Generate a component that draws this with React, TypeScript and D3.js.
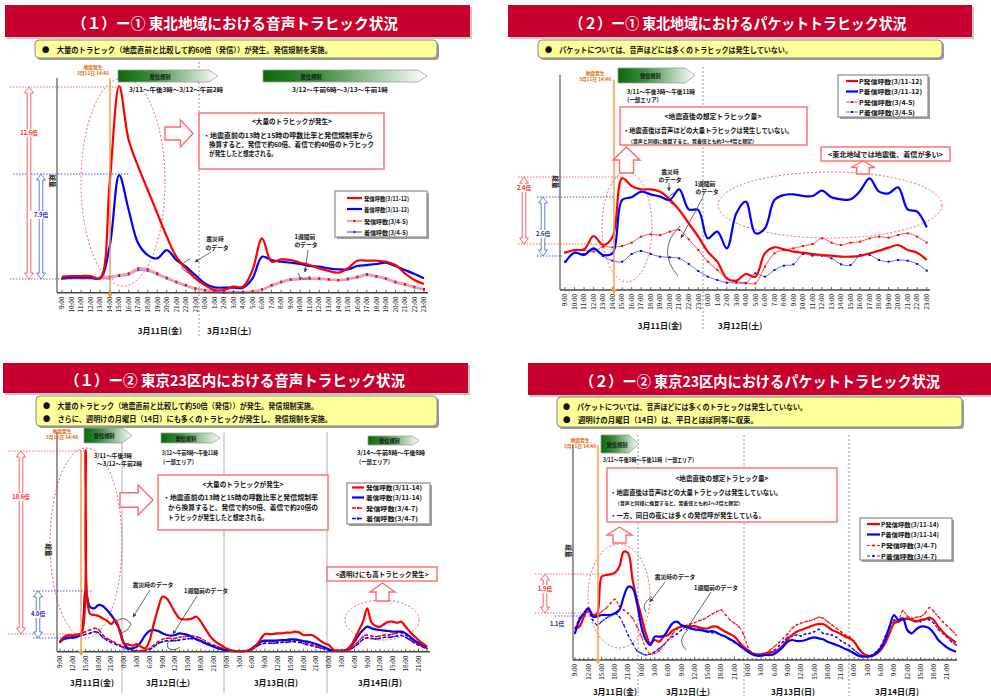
import React from "react";
import * as d3 from "d3";

const FONT = "'Noto Sans CJK JP','Noto Sans',sans-serif";

const HOURS = ["0:00","1:00","2:00","3:00","4:00","5:00","6:00","7:00","8:00","9:00","10:00","11:00","12:00","13:00","14:00","15:00","16:00","17:00","18:00","19:00","20:00","21:00","22:00","23:00"];
const CATS_2D = [...HOURS.slice(9), ...HOURS];
const CATS_4D = [...HOURS.slice(9), ...HOURS, ...HOURS, ...HOURS];
const DATES_2D = ["3月11日(金)", "3月12日(土)"];
const DATES_4D = ["3月11日(金)", "3月12日(土)", "3月13日(日)", "3月14日(月)"];

const TITLES = [
  "（１）ー①  東北地域における音声トラヒック状況",
  "（２）ー①  東北地域におけるパケットトラヒック状況",
  "（１）ー②  東京23区内における音声トラヒック状況",
  "（２）ー②  東京23区内におけるパケットトラヒック状況",
];

const LEG_P1 = ["発信呼数(3/11-12)", "着信呼数(3/11-12)", "発信呼数(3/4-5)", "着信呼数(3/4-5)"];
const LEG_P2 = ["P発信呼数(3/11-12)", "P着信呼数(3/11-12)", "P発信呼数(3/4-5)", "P着信呼数(3/4-5)"];
const LEG_P3 = ["発信呼数(3/11-14)", "着信呼数(3/11-14)", "発信呼数(3/4-7)", "着信呼数(3/4-7)"];
const LEG_P4 = ["P発信呼数(3/11-14)", "P着信呼数(3/11-14)", "P発信呼数(3/4-7)", "P着信呼数(3/4-7)"];

// Panel 1 : 東北 音声 (9:00 3/11 .. 23:00 3/12)
const P1_SEND = [48,50,50,50,43,328,620,458,378,308,238,168,108,73,43, 23,8,8,18,18,68,163,93,100,98,90,83,73,65,60,73,96,96,96,93,83,58,38,26];
const P1_RECV = [43,45,45,45,43,138,353,248,148,113,103,128,98,78,53, 28,16,15,15,15,43,108,98,93,90,86,80,78,73,70,70,80,83,86,90,80,68,56,43];
const P1_SEND_PREV = [43,45,45,45,45,48,53,58,73,70,58,45,33,23,13, 8,4,2,2,2,4,10,23,33,40,43,43,43,40,38,42,48,56,50,43,33,26,18,11];
const P1_RECV_PREV = [42,44,44,44,44,46,50,55,68,66,55,43,31,21,12, 7,3,1,1,1,3,9,21,31,38,41,41,41,39,37,40,46,53,48,41,31,24,16,10];

// Panel 2 : 東北 パケット
const P2_SEND = [112,120,122,162,135,160,335,312,302,302,295,272,240,200,160, 115,85,35,28,48,40,110,128,122,115,112,108,105,103,100,100,102,110,118,127,135,120,112,90];
const P2_RECV = [82,112,105,125,105,110,270,278,295,287,280,270,302,242,240, 155,175,125,230,265,170,185,270,285,287,282,282,298,278,272,272,297,335,295,290,308,242,235,188];
const P2_SEND_PREV = [112,120,120,115,130,128,132,142,160,167,165,175,180,152,120, 85,60,35,25,22,20,70,110,120,125,132,138,155,142,135,142,145,155,160,157,165,170,160,142];
const P2_RECV_PREV = [85,112,108,122,102,88,85,108,117,108,100,98,95,78,57, 40,30,22,22,20,50,40,60,73,77,108,103,103,95,77,75,105,105,90,85,90,88,78,58];

// Panel 3 : 東京23区 音声 (9:00 3/11 .. 23:00 3/14)
const P3_SEND = [30,45,50,50,52,55,605,115,110,107,100,93,83,95,60,
  25,22,18,23,15,10,35,85,130,165,160,140,117,100,97,97,100,105,90,70,50,35,25,18,
  10,5,2,2,2,3,7,20,37,53,53,53,55,55,57,57,60,58,50,50,50,43,33,25,
  20,7,3,3,3,15,37,63,90,130,87,77,75,83,90,90,87,90,75,60,47,35,25,15];
const P3_RECV = [30,40,42,42,45,55,180,135,130,140,137,125,110,90,65,
  25,10,10,15,30,50,63,65,62,55,50,48,50,55,53,50,43,37,32,25,20,15,10,7,
  5,3,2,2,2,3,10,20,30,33,33,33,34,35,35,37,37,35,32,30,27,23,18,13,
  7,3,3,3,5,15,30,50,65,75,70,67,65,63,62,60,60,60,55,45,35,27,20,13];
const P3_SEND_PREV = [30,40,45,47,50,55,60,65,70,67,50,40,33,27,20,
  15,10,5,3,3,5,10,20,30,37,40,40,40,43,45,47,47,45,40,33,25,20,15,10,
  5,3,2,2,2,3,10,20,27,30,30,30,32,33,33,35,35,33,30,25,21,17,13,10,
  5,3,2,2,3,10,20,32,45,50,47,45,47,50,50,53,55,57,50,40,30,22,15,10];
const P3_RECV_PREV = [28,37,40,42,45,48,52,55,60,57,43,35,28,23,17,
  12,7,3,2,2,3,7,15,25,30,33,33,33,35,37,39,39,37,33,27,21,17,12,8,
  4,2,1,1,1,2,7,15,22,25,25,25,27,28,28,30,30,28,25,21,18,15,11,8,
  4,2,1,1,2,7,15,25,37,42,40,38,40,43,43,45,47,49,43,35,27,20,14,9];

// Panel 4 : 東京23区 パケット
const P4_SEND = [95,100,130,155,135,140,250,255,257,262,280,325,320,240,180,
  130,80,50,60,55,70,75,88,95,100,102,100,102,98,95,95,100,100,92,85,78,70,55,40,
  30,20,17,17,20,22,25,32,45,62,75,85,90,95,100,105,108,108,100,90,85,78,70,65,
  55,35,20,13,13,18,30,50,80,110,115,122,125,120,115,120,122,127,120,100,85,72,62,52];
const P4_RECV = [80,120,140,155,130,130,135,135,135,140,150,190,220,215,170,
  100,60,45,70,70,72,90,110,115,105,100,95,92,90,88,85,87,82,75,70,62,55,45,35,
  25,17,13,13,15,15,18,28,40,55,60,57,57,60,65,68,65,62,55,50,45,40,33,28,
  20,13,10,10,12,20,35,60,100,135,120,125,90,80,92,100,100,95,80,60,48,37,30,25];
const P4_SEND_PREV = [95,125,140,145,132,135,145,155,170,182,162,150,140,125,100,
  70,35,18,20,28,45,60,78,92,100,103,108,112,118,122,130,138,145,150,135,120,110,100,78,
  40,20,15,15,20,30,40,52,65,78,95,105,110,115,118,122,128,125,115,105,95,85,75,68,
  55,35,20,13,15,22,40,70,100,115,120,148,132,125,128,130,140,157,145,130,115,102,90,75];
const P4_RECV_PREV = [80,125,135,145,120,105,115,125,132,140,130,105,75,50,28,
  20,15,18,25,35,45,60,70,78,90,100,105,100,95,90,85,82,80,75,70,62,52,45,35,
  25,18,15,15,18,23,30,42,55,68,72,75,72,78,80,85,92,80,78,75,68,58,50,42,
  30,20,13,12,15,25,42,70,100,120,115,120,122,120,118,115,122,120,110,92,80,68,55,45];

type Sty = { c: string; w: number; dash?: string; mk?: string; ms?: number };
type Ser = { v: number[]; s: Sty };
type Cfg = {
  cats: string[]; step: number; x0: number; x1: number; left: number; right: number;
  top: number; bottom: number; yMax: number; fs: number; series: Ser[];
};

const RED: Sty = { c: "#FF0000", w: 2.2 };
const BLUE: Sty = { c: "#0000FF", w: 2.2 };
const P1_RP: Sty = { c: "#FF9C9C", w: 2.2, mk: "#E00000", ms: 2 };
const P1_BP: Sty = { c: "#A0A0FF", w: 2.2, mk: "#2020C8", ms: 2 };
const P2_RP: Sty = { c: "#FF5050", w: 1, mk: "#FF0000", ms: 2 };
const P2_BP: Sty = { c: "#6A6AFF", w: 1, mk: "#0000FF", ms: 2 };
const P3_RP: Sty = { c: "#FF0000", w: 1.4, dash: "4,2", mk: "#FF0000", ms: 1.6 };
const P3_BP: Sty = { c: "#0000FF", w: 1.4, dash: "4,2", mk: "#0000FF", ms: 1.6 };
const P4_RP: Sty = { c: "#FF2020", w: 1.2, dash: "3,2", mk: "#FF0000", ms: 1.6 };
const P4_BP: Sty = { c: "#2020FF", w: 1.2, dash: "3,2", mk: "#0000FF", ms: 1.6 };

function Chart({ cfg }: { cfg: Cfg }) {
  const x = d3.scaleLinear().domain([0, cfg.cats.length - 1]).range([cfg.x0, cfg.x1]);
  const y = d3.scaleLinear().domain([0, cfg.yMax]).range([cfg.bottom, cfg.top]);
  const line = d3.line<number>().x((_, i) => x(i)).y((d) => y(d)).curve(d3.curveCatmullRom.alpha(0.5));
  return (
    <g>
      <line x1={cfg.left} x2={cfg.left} y1={cfg.top} y2={cfg.bottom} stroke="#444" strokeWidth={1.1} />
      {cfg.cats.map((c, i) => (
        <line key={"k" + i} x1={x(i)} x2={x(i)} y1={cfg.bottom} y2={cfg.bottom - (i % cfg.step === 0 ? 3 : 2)} stroke="#444" strokeWidth={0.8} />
      ))}
      {cfg.cats.map((c, i) =>
        i % cfg.step === 0 ? (
          <text key={"t" + i} transform={`translate(${x(i) + cfg.fs * 0.36},${cfg.bottom + 4}) rotate(-90)`} textAnchor="end"
            fontSize={cfg.fs} fontFamily={FONT} fill="#222">{c}</text>
        ) : null
      )}
      {cfg.series.map((s, k) => (
        <g key={"s" + k}>
          <path d={line(s.v) as string} fill="none" stroke={s.s.c} strokeWidth={s.s.w} strokeDasharray={s.s.dash} strokeLinejoin="round" />
          {s.s.mk ? s.v.map((d, i) => (
            <rect key={i} x={x(i) - (s.s.ms || 2) / 2} y={y(d) - (s.s.ms || 2) / 2} width={s.s.ms || 2} height={s.s.ms || 2} fill={s.s.mk} />
          )) : null}
        </g>
      ))}
      <line x1={cfg.left} x2={cfg.right} y1={cfg.bottom} y2={cfg.bottom} stroke="#444" strokeWidth={1.4} />
    </g>
  );
}

function Txt(p: { x: number; y: number; t: string; fs?: number; w?: number; fill?: string; a?: string; b?: boolean }) {
  const extra: any = p.w ? { textLength: p.w, lengthAdjust: "spacingAndGlyphs" } : {};
  return (
    <text x={p.x} y={p.y} fontSize={p.fs ?? 6.5} fontFamily={FONT} fontWeight={p.b === false ? 400 : 700}
      fill={p.fill ?? "#111"} textAnchor={p.a ?? "start"} dominantBaseline="central" {...extra}>{p.t}</text>
  );
}

function Title({ x, y, w, h, t, tx, tw }: any) {
  return (
    <g>
      <rect x={x + 2} y={y + 2} width={w} height={h} fill="#C8C8C8" />
      <rect x={x} y={y} width={w} height={h} fill="#C8002E" />
      <text x={tx} y={y + h / 2 + 1} fontSize={15} fontFamily={FONT} fontWeight={700} fill="#fff" textAnchor="middle"
        dominantBaseline="central" textLength={tw} lengthAdjust="spacingAndGlyphs">{t}</text>
    </g>
  );
}

function Yellow({ x, y, w, h, lines }: any) {
  return (
    <g>
      <rect x={x + 2} y={y + 2} width={w} height={h} rx={4} fill="#9A9A9A" />
      <rect x={x} y={y} width={w} height={h} rx={4} fill="#FFFF99" stroke="#8A8A8A" strokeWidth={1} />
      {lines.map((l: any, i: number) => <Txt key={i} x={l[1]} y={l[2]} t={l[0]} fs={7.5} w={l[3]} />)}
    </g>
  );
}

function Green({ x, y, w, h, sub }: any) {
  const tip = Math.min(10, h * 0.75);
  const d = `M${x},${y}H${x + w - tip}L${x + w},${y + h / 2}L${x + w - tip},${y + h}H${x}Z`;
  return (
    <g>
      <path d={d} fill="url(#gGrad)" stroke="#A0A0A0" strokeWidth={0.8} />
      <Txt x={x + Math.min(w * 0.42, 48)} y={y + h / 2} t="発信規制" fs={5.2} a="middle" fill="#111" />
      {sub.map((l: any, i: number) => <Txt key={i} x={l[1]} y={l[2]} t={l[0]} fs={6} w={l[3]} />)}
    </g>
  );
}

function Quake({ x, y1, y2, lx, ly }: any) {
  return (
    <g>
      <line x1={x} x2={x} y1={y1} y2={y2 - 4} stroke="#F7963F" strokeWidth={1.6} opacity={0.85} />
      <path d={`M${x - 3},${y2 - 5}L${x + 3},${y2 - 5}L${x},${y2}Z`} fill="#F7963F" />
      <Txt x={lx} y={ly} t="地震発生" fs={4.8} a="middle" fill="#F06000" />
      <Txt x={lx} y={ly + 6} t="3月11日 14:46" fs={4.8} a="middle" fill="#F06000" />
    </g>
  );
}

function Callout({ x, y, w, h, title, tx, ty, tw, lines }: any) {
  return (
    <g>
      <rect x={x} y={y} width={w} height={h} fill="#fff" stroke="#FF6A6A" strokeWidth={1.4} />
      <Txt x={tx} y={ty} t={title} fs={6.8} a="middle" w={tw} />
      {lines.map((l: any, i: number) => <Txt key={i} x={l[1]} y={l[2]} t={l[0]} fs={l[4] || 6.5} w={l[3]} />)}
    </g>
  );
}

function Legend({ x, y, w, h, names, styles, rows, sx0, sx1, tx, tws }: any) {
  return (
    <g>
      <rect x={x + 2} y={y + 2} width={w} height={h} fill="#A0A0A0" />
      <rect x={x} y={y} width={w} height={h} fill="#fff" stroke="#8C8C8C" strokeWidth={1.2} />
      {names.map((n: string, i: number) => {
        const s: Sty = styles[i];
        return (
          <g key={i}>
            <line x1={sx0} x2={sx1} y1={rows[i]} y2={rows[i]} stroke={s.c} strokeWidth={s.w} strokeDasharray={s.dash} />
            {s.mk ? <rect x={(sx0 + sx1) / 2 - 1} y={rows[i] - 1} width={2} height={2} fill={s.mk} /> : null}
            <Txt x={tx} y={rows[i]} t={n} fs={6.2} w={tws[i]} />
          </g>
        );
      })}
    </g>
  );
}

function DArrow({ x, y1, y2, c }: any) {
  const hw = 4.5, sw = 1.8, hl = 6;
  const d = `M${x},${y1}L${x + hw},${y1 + hl}L${x + sw},${y1 + hl}L${x + sw},${y2 - hl}L${x + hw},${y2 - hl}L${x},${y2}L${x - hw},${y2 - hl}L${x - sw},${y2 - hl}L${x - sw},${y1 + hl}L${x - hw},${y1 + hl}Z`;
  return <path d={d} fill="#fff" stroke={c} strokeWidth={0.9} />;
}

function Ratio({ x, y, t, c }: any) {
  return (
    <g>
      <rect x={x - 11} y={y - 4} width={22} height={8} fill="#fff" />
      <Txt x={x} y={y} t={t} fs={5.6} a="middle" fill={c} />
    </g>
  );
}

function RArrow({ x, y, w, h }: any) {
  const hl = w * 0.45, sh = h * 0.24, cy = y + h / 2;
  const d = `M${x},${cy - sh}H${x + w - hl}V${y}L${x + w},${cy}L${x + w - hl},${y + h}V${cy + sh}H${x}Z`;
  return <path d={d} fill="#fff" stroke="#FF6A6A" strokeWidth={1.4} />;
}

function UArrow({ x, y, w, h }: any) {
  const hl = h * 0.5, sw = w * 0.26, cx = x + w / 2;
  const d = `M${cx - sw},${y + h}V${y + hl}H${x}L${cx},${y}L${x + w},${y + hl}H${cx + sw}V${y + h}Z`;
  return <path d={d} fill="#fff" stroke="#FF6A6A" strokeWidth={1.4} />;
}

function Ell({ cx, cy, rx, ry }: any) {
  return <ellipse cx={cx} cy={cy} rx={rx} ry={ry} fill="none" stroke="#FF5A5A" strokeWidth={1} strokeDasharray="2,2" />;
}

function HDot({ y, x1, x2, c }: any) {
  return <line x1={x1} x2={x2} y1={y} y2={y} stroke={c} strokeWidth={0.9} strokeDasharray="1.5,1.5" />;
}

function VText({ x, y }: any) {
  return (
    <text transform={`translate(${x},${y}) rotate(90)`} fontSize={6.5} fontFamily={FONT} fontWeight={700} fill="#111"
      textAnchor="middle" dominantBaseline="central">総量</text>
  );
}

function Pointer({ x1, y1, x2, y2 }: any) {
  return <line x1={x1} y1={y1} x2={x2} y2={y2} stroke="#444" strokeWidth={0.8} markerEnd="url(#gArr)" />;
}

function Arc({ d }: any) {
  return <path d={d} fill="none" stroke="#555" strokeWidth={0.9} />;
}

export default function App() {
  const cfg1: Cfg = {
    cats: CATS_2D, step: 1, x0: 62, x1: 424, left: 57, right: 428, top: 77.7, bottom: 292.7, yMax: 645, fs: 6.3,
    series: [
      { v: P1_RECV_PREV, s: P1_BP }, { v: P1_SEND_PREV, s: P1_RP },
      { v: P1_RECV, s: BLUE }, { v: P1_SEND, s: RED },
    ],
  };
  const cfg2: Cfg = {
    cats: CATS_2D, step: 1, x0: 565, x1: 926.7, left: 560, right: 930, top: 75, bottom: 290, yMax: 645, fs: 6.3,
    series: [
      { v: P2_RECV_PREV, s: P2_BP }, { v: P2_SEND_PREV, s: P2_RP },
      { v: P2_SEND, s: RED }, { v: P2_RECV, s: BLUE },
    ],
  };
  const cfg3: Cfg = {
    cats: CATS_4D, step: 3, x0: 60, x1: 427, left: 57, right: 430, top: 432, bottom: 651.7, yMax: 659, fs: 6.3,
    series: [
      { v: P3_RECV_PREV, s: P3_BP }, { v: P3_SEND_PREV, s: P3_RP },
      { v: P3_RECV, s: BLUE }, { v: P3_SEND, s: RED },
    ],
  };
  const cfg4: Cfg = {
    cats: CATS_4D, step: 3, x0: 575, x1: 956, left: 573, right: 957, top: 445, bottom: 660, yMax: 645, fs: 6.3,
    series: [
      { v: P4_RECV_PREV, s: P4_BP }, { v: P4_SEND_PREV, s: P4_RP },
      { v: P4_SEND, s: RED }, { v: P4_RECV, s: BLUE },
    ],
  };

  return (
    <div>
      <svg width={991} height={696} style={{ position: "absolute", left: 0, top: 0, background: "#fff" }}>
        <defs>
          <linearGradient id="gGrad" x1="0" x2="1" y1="0" y2="0">
            <stop offset="0%" stopColor="#0A680A" />
            <stop offset="35%" stopColor="#3E8E3E" />
            <stop offset="100%" stopColor="#FFFFFF" />
          </linearGradient>
          <marker id="gArr" viewBox="0 0 10 10" refX="9" refY="5" markerWidth="5" markerHeight="5" orient="auto">
            <path d="M0,0L10,5L0,10Z" fill="#444" />
          </marker>
        </defs>
        <rect x={0} y={0} width={991} height={696} fill="#fff" />

        {/* ================= Panel 1 ================= */}
        <Title x={5} y={5} w={465} h={32} t={TITLES[0]} tx={235} tw={326} />
        <Yellow x={35} y={40} w={402} h={18} lines={[["●　大量のトラヒック（地震直前と比較して約60倍（発信））が発生。発信規制を実施。", 42, 49.5, 290]]} />
        <line x1={199} x2={199} y1={62} y2={337} stroke="#888" strokeWidth={0.9} strokeDasharray="2,2" />
        <Ell cx={123} cy={182} rx={42} ry={104} />
        <Chart cfg={cfg1} />
        <Quake x={110} y1={78} y2={298} lx={93} ly={66} />
        <Green x={118} y={70} w={100} h={12} sub={[["3/11～午後3時～3/12～午前2時", 129, 89, 94]]} />
        <Green x={263} y={70} w={164} h={12} sub={[["3/12～午前6時～3/13～午前1時", 292, 89, 96]]} />
        <HDot y={87} x1={10} x2={122} c="#FF5050" />
        <HDot y={174} x1={13} x2={130} c="#4040E0" />
        <HDot y={279} x1={10} x2={115} c="#8050C0" />
        <DArrow x={29} y1={87} y2={279} c="#FF5050" />
        <DArrow x={41} y1={174} y2={279} c="#5070D0" />
        <Ratio x={29} y={133} t="12.6倍" c="#FF2020" />
        <Ratio x={41} y={215} t="7.9倍" c="#2020E0" />
        <VText x={53} y={181} />
        <RArrow x={165} y={120} w={28} h={27} />
        <Callout x={199} y={113} w={185} h={56} title="<大量のトラヒックが発生>" tx={292} ty={121} tw={80}
          lines={[["・地震直前の13時と15時の呼数比率と発信規制率から", 203, 135, 170],
                  ["換算すると、発信で約60倍、着信で約40倍のトラヒック", 209, 144, 165],
                  ["が発生したと想定される。", 209, 153, 68]]} />
        <Legend x={335} y={191} w={92} h={46} names={LEG_P1} styles={[RED, BLUE, P1_RP, P1_BP]}
          rows={[198, 209, 221, 232]} sx0={347} sx1={362} tx={364} tws={[45, 45, 44, 44]} />
        <Txt x={215} y={238} t="震災時" fs={5.8} a="middle" />
        <Txt x={217} y={247} t="のデータ" fs={5.8} a="middle" />
        <Pointer x1={211} y1={252} x2={195} y2={262} />
        <Arc d="M190,259 Q174,266 190,274" />
        <Txt x={305} y={236} t="1週間前" fs={5.8} a="middle" />
        <Txt x={306} y={244} t="のデータ" fs={5.8} a="middle" />
        <Pointer x1={308} y1={250} x2={305} y2={272} />
        <Arc d="M298,273 Q302,284 310,276" />
        <Txt x={182} y={330} t={DATES_2D[0]} fs={8} a="end" />
        <Txt x={207} y={330} t={DATES_2D[1]} fs={8} />

        {/* ================= Panel 2 ================= */}
        <Title x={508} y={5} w={464} h={32} t={TITLES[1]} tx={738} tw={337} />
        <Yellow x={538} y={40} w={404} h={18} lines={[["●　パケットについては、音声ほどには多くのトラヒックは発生していない。", 545, 49.5, 247]]} />
        <line x1={703} x2={703} y1={67} y2={330} stroke="#888" strokeWidth={0.9} strokeDasharray="2,2" />
        <Ell cx={627} cy={227} rx={25} ry={55} />
        <Ell cx={830} cy={205} rx={112} ry={33} />
        <Chart cfg={cfg2} />
        <Quake x={614} y1={80} y2={294} lx={595} ly={72} />
        <Green x={618} y={68} w={77} h={15} sub={[["3/11～午後3時～午後11時", 627, 91, 68], ["（一部エリア）", 624, 99, 38]]} />
        <Legend x={838} y={75} w={90} h={42} names={LEG_P2} styles={[RED, BLUE, P2_RP, P2_BP]}
          rows={[81, 91.5, 102, 112]} sx0={846} sx1={858} tx={859} tws={[63, 63, 56, 56]} />
        <Callout x={620} y={107} w={187} h={38} title="<地震直後の想定トラヒック量>" tx={713} ty={116} tw={97}
          lines={[["・地震直後は音声ほどの大量トラヒックは発生していない。", 623, 130, 170],
                  ["（音声と同様に換算すると、発着信とも約3～4倍と想定）", 628, 140, 129, 5]]} />
        <UArrow x={613} y={147} w={27} h={26} />
        <rect x={821} y={147} width={129} height={14} fill="#fff" stroke="#FF6A6A" strokeWidth={1.4} />
        <Txt x={885.5} y={154} t="<東北地域では地震後、着信が多い>" fs={6.5} a="middle" w={115} />
        <UArrow x={851} y={161} w={24} h={13} />
        <HDot y={177} x1={518} x2={622} c="#FF5050" />
        <HDot y={244} x1={518} x2={605} c="#FF5050" />
        <HDot y={197} x1={537} x2={615} c="#4040E0" />
        <HDot y={256} x1={537} x2={562} c="#4040E0" />
        <DArrow x={524} y1={177} y2={244} c="#FF5050" />
        <DArrow x={543} y1={197} y2={256} c="#5070D0" />
        <Ratio x={524} y={188} t="2.4倍" c="#FF2020" />
        <Ratio x={543} y={234} t="2.6倍" c="#2020E0" />
        <VText x={556} y={182} />
        <Txt x={670} y={171} t="震災時" fs={5.8} a="middle" />
        <Txt x={670} y={179} t="のデータ" fs={5.8} a="middle" />
        <Pointer x1={669} y1={183} x2={669} y2={191} />
        <Arc d="M676,192 Q660,199 676,206" />
        <Txt x={705} y={183} t="1週間前" fs={5.8} a="middle" />
        <Txt x={707} y={191} t="のデータ" fs={5.8} a="middle" />
        <Pointer x1={703} y1={197} x2={681} y2={238} />
        <Arc d="M680,226 Q656,250 678,276" />
        <Txt x={682} y={325} t={DATES_2D[0]} fs={8} a="end" />
        <Txt x={718} y={325} t={DATES_2D[1]} fs={8} />

        {/* ================= Panel 3 ================= */}
        <Title x={3} y={363} w={465} h={30} t={TITLES[2]} tx={235} tw={340} />
        <Yellow x={36} y={396} w={401} h={30} lines={[
          ["●　大量のトラヒック（地震直前と比較して約50倍（発信））が発生。発信規制実施。", 43, 405, 275],
          ["●　さらに、週明けの月曜日（14日）にも多くのトラヒックが発生し、発信規制を実施。", 43, 418, 289]]} />
        {[122, 224, 327].map((xx) => <line key={xx} x1={xx} x2={xx} y1={432} y2={693} stroke="#B0B0B0" strokeWidth={1} />)}
        <Ell cx={86} cy={543} rx={36} ry={95} />
        <Ell cx={382} cy={620} rx={37} ry={20} />
        <Chart cfg={cfg3} />
        <Quake x={81} y1={450} y2={656} lx={62} ly={430} />
        <Green x={84} y={428} w={48} h={15} sub={[["3/11～午後3時", 94, 455, 38], ["～3/12～午前2時", 97, 463, 45]]} />
        <Green x={161} y={433} w={59} h={10} sub={[["3/12～午前8時～午後11時", 162, 452, 56], ["（一部エリア）", 160, 461, 37]]} />
        <Green x={368} y={436} w={51} h={9} sub={[["3/14～午前8時～午後8時", 357, 452, 68], ["（一部エリア）", 356, 461, 37]]} />
        <HDot y={451} x1={8} x2={85} c="#FF5050" />
        <HDot y={634} x1={8} x2={85} c="#FF5050" />
        <HDot y={591} x1={33} x2={92} c="#4040E0" />
        <HDot y={638} x1={33} x2={70} c="#4040E0" />
        <DArrow x={21} y1={451} y2={634} c="#FF5050" />
        <DArrow x={38} y1={591} y2={638} c="#5070D0" />
        <Ratio x={21} y={497} t="10.6倍" c="#FF2020" />
        <Ratio x={38} y={614} t="4.0倍" c="#2020E0" />
        <VText x={49} y={550} />
        <RArrow x={120} y={485} w={33} h={30} />
        <Callout x={158} y={475} w={170} h={55} title="<大量のトラヒックが発生>" tx={243} ty={484} tw={81}
          lines={[["・地震直前の13時と15時の呼数比率と発信規制率", 163, 497, 155],
                  ["から換算すると、発信で約50倍、着信で約20倍の", 168, 507, 150],
                  ["トラヒックが発生したと想定される。", 168, 517, 100]]} />
        <Legend x={347} y={483} w={83} h={41} names={LEG_P3} styles={[RED, BLUE, P3_RP, P3_BP]}
          rows={[487.5, 497.5, 508, 518.5]} sx0={352} sx1={364} tx={366} tws={[56, 56, 52, 52]} />
        <rect x={327} y={567} width={110} height={14} fill="#fff" stroke="#FF6A6A" strokeWidth={1.4} />
        <Txt x={382} y={574} t="<週明けにも高トラヒック発生>" fs={6.5} a="middle" w={93} />
        <UArrow x={370} y={583} w={25} h={18} />
        <Txt x={153} y={584} t="震災時のデータ" fs={5.8} a="middle" />
        <Pointer x1={150} y1={590} x2={133} y2={617} />
        <Arc d="M116,622 Q124,614 131,624 Q128,632 120,633" />
        <Txt x={206} y={590} t="1週間前のデータ" fs={5.8} a="middle" />
        <Pointer x1={197} y1={596} x2={173} y2={634} />
        <Arc d="M178,638 Q164,640 168,648 Q174,652 180,647" />
        {DATES_4D.map((d, i) => <Txt key={d} x={[92, 168, 276, 380][i]} y={682} t={d} fs={8} a="middle" />)}

        {/* ================= Panel 4 ================= */}
        <Title x={528} y={363} w={463} h={32} t={TITLES[3]} tx={760} tw={360} />
        <Yellow x={557} y={397} w={405} h={30} lines={[
          ["●　パケットについては、音声ほどには多くのトラヒックは発生していない。", 563, 406, 244],
          ["●　週明けの月曜日（14日）は、平日とほぼ同等に収束。", 563, 419, 195]]} />
        {[638, 744, 849].map((xx) => <line key={xx} x1={xx} x2={xx} y1={435} y2={696} stroke="#8A8A8A" strokeWidth={0.9} strokeDasharray="2,2" />)}
        <Ell cx={619} cy={596} rx={31} ry={52} />
        <Chart cfg={cfg4} />
        <Quake x={598} y1={445} y2={664} lx={580} ly={439} />
        <Green x={601} y={435} w={38} h={18} sub={[["3/11～午後3時～午後11時（一部エリア）", 603, 459, 94]]} />
        <Callout x={607} y={468} w={230} h={54} title="<地震直後の想定トラヒック量>" tx={722} ty={477.5} tw={93}
          lines={[["・地震直後は音声ほどの大量トラヒックは発生していない。", 610, 492, 172],
                  ["（音声と同様に換算すると、発着信とも約2～3倍と想定）", 615, 502, 128, 5],
                  ["・一方、同日の夜には多くの発信呼が発生している。", 610, 515, 155]]} />
        <UArrow x={607} y={527} w={25} h={16} />
        <Legend x={860} y={518} w={92} h={42} names={LEG_P4} styles={[RED, BLUE, P4_RP, P4_BP]}
          rows={[524, 534.5, 545.5, 556]} sx0={867} sx1={880} tx={881} tws={[58, 58, 56, 56]} />
        <HDot y={574} x1={535} x2={602} c="#FF5050" />
        <HDot y={613} x1={535} x2={600} c="#FF5050" />
        <HDot y={616} x1={555} x2={590} c="#4040E0" />
        <DArrow x={545} y1={574} y2={613} c="#FF5050" />
        <Ratio x={545} y={589} t="1.9倍" c="#FF2020" />
        <Txt x={557} y={624} t="1.1倍" fs={5.6} a="middle" fill="#2020E0" />
        <VText x={569} y={551} />
        <Txt x={675} y={576} t="震災時のデータ" fs={5.8} a="middle" />
        <Pointer x1={665} y1={582} x2={650} y2={602} />
        <Arc d="M652,597 Q640,604 646,612" />
        <Txt x={716} y={587} t="1週間前のデータ" fs={5.8} a="middle" />
        <Pointer x1={711} y1={592} x2={686} y2={630} />
        <Arc d="M688,630 Q676,640 686,650" />
        {DATES_4D.map((d, i) => <Txt key={d} x={[615, 688, 793, 897][i]} y={691} t={d} fs={8} a="middle" />)}
      </svg>
    </div>
  );
}
